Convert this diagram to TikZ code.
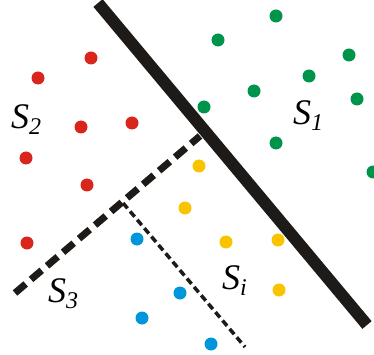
\documentclass[tikz,border=0pt]{standalone}
\usepackage{fontspec}
\setmainfont{Liberation Serif}
\definecolor{dred}{HTML}{DA251D}
\definecolor{dgreen}{HTML}{00934A}
\definecolor{dyellow}{HTML}{F9C300}
\definecolor{dblue}{HTML}{0096DB}
\definecolor{ink}{HTML}{1E1A17}
\newcommand{\setlbl}[1]{\fontsize{36}{36}\selectfont\itshape S\raisebox{-6pt}{\fontsize{24}{24}\selectfont #1}}
\tikzset{
  dot/.style={circle,inner sep=0pt,minimum size=13pt,draw=none},
  rdot/.style={dot,fill=dred},
  gdot/.style={dot,fill=dgreen},
  ydot/.style={dot,fill=dyellow},
  bdot/.style={dot,fill=dblue},
  bigline/.style={draw=ink,line width=12pt,line cap=butt},
  thickdash/.style={draw=ink,line width=7pt,dash pattern=on 14pt off 7pt},
  thindash/.style={draw=ink,line width=3.5pt,dash pattern=on 7pt off 4pt},
  lbl/.style={anchor=base west,inner sep=0pt}
}
\begin{document}
\begin{tikzpicture}[x=1pt,y=-1pt]
\useasboundingbox (0,0) rectangle (374,355);
% red
\node[rdot] (r1) at (38,78) {};
\node[rdot] (r2) at (91,58) {};
\node[rdot] (r3) at (81,127) {};
\node[rdot] (r4) at (132,123) {};
\node[rdot] (r5) at (26,158) {};
\node[rdot] (r6) at (87,185) {};
\node[rdot] (r7) at (27,243) {};
% green
\node[gdot] (g1) at (276,16) {};
\node[gdot] (g2) at (218,40) {};
\node[gdot] (g3) at (349,55) {};
\node[gdot] (g4) at (309,76) {};
\node[gdot] (g5) at (254,91) {};
\node[gdot] (g6) at (357,99) {};
\node[gdot] (g7) at (204,107) {};
\node[gdot] (g8) at (276,143) {};
\node[gdot] (g9) at (373,172) {};
% yellow
\node[ydot] (y1) at (199,166) {};
\node[ydot] (y2) at (185,208) {};
\node[ydot] (y3) at (226,242) {};
\node[ydot] (y4) at (278,240) {};
\node[ydot] (y5) at (279,290) {};
% blue
\node[bdot] (b1) at (137,239) {};
\node[bdot] (b2) at (180,293) {};
\node[bdot] (b3) at (142,318) {};
\node[bdot] (b4) at (211,344) {};
% lines
\coordinate (t1) at (98,3);
\coordinate (t2) at (367,325);
\coordinate (d1) at (15,293);
\coordinate (d2) at (200,136);
\coordinate (c) at (123,203);
\coordinate (e) at (245,347);
\draw[thindash] (c) -- (e);
\draw[thickdash] (d1) -- (d2);
\draw[bigline] (t1) -- (t2);
% labels
\node[lbl] (s2) at (11,129) {\setlbl{2}};
\node[lbl] (s1) at (293,125) {\setlbl{1}};
\node[lbl] (s3) at (48,302) {\setlbl{3}};
\node[lbl] (si) at (222,289) {\setlbl{i}};
\end{tikzpicture}
\end{document}
